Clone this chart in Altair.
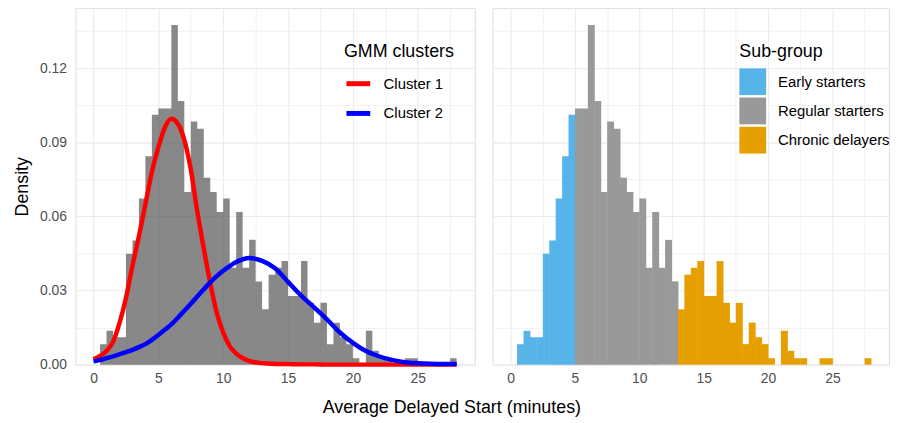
import altair as alt
import pandas as pd

# ---- histogram bins (width 0.5), densities ----
early_start = [0.5, 1.0, 1.5, 2.0, 2.5, 3.0, 3.5, 4.0, 4.5]
early_density = [0.0083, 0.0137, 0.0111, 0.0111, 0.0449, 0.0502, 0.0672, 0.0843, 0.1011]

regular_start = [5.0, 5.5, 6.0, 6.5, 7.0, 7.5, 8.0, 8.5, 9.0, 9.5, 10.0, 10.5, 11.0, 11.5, 12.0, 12.5]
regular_density = [0.1037, 0.1037, 0.1375, 0.1067, 0.0699, 0.0984, 0.0955, 0.0756,
                   0.0699, 0.0618, 0.0672, 0.0392, 0.0618, 0.0392, 0.0505, 0.0337]

chronic_start = [13.0, 13.5, 14.0, 14.5, 15.0, 15.5, 16.0, 16.5, 17.0, 17.5, 18.0, 18.5,
                 19.0, 19.5, 20.0, 21.0, 21.5, 22.0, 22.5, 24.0, 24.5, 27.5]
chronic_density = [0.0224, 0.0364, 0.0392, 0.0419, 0.0278, 0.0278, 0.0419, 0.0250, 0.0170,
                   0.0250, 0.0083, 0.0170, 0.0111, 0.0083, 0.0026, 0.0137, 0.0056, 0.0026,
                   0.0026, 0.0026, 0.0026, 0.0026]

bin_width = 0.5
first_bin, last_bin_end = 0.5, 28.0
groups = ["Early starters", "Regular starters", "Chronic delayers"]
group_colors = ["#56B4E9", "#999999", "#E69F00"]

# ---- GMM component curves ----
curve_x = [0, 0.5, 1, 1.5, 2, 2.5, 3, 3.5, 4, 4.5, 5, 5.5, 6, 6.5, 7, 7.5, 8, 8.5, 9, 9.5,
           10, 10.5, 11, 11.5, 12, 13, 14, 15, 16, 17, 18, 19, 20, 21, 22, 23, 24, 25, 26, 27, 28]
cluster1 = [0.0022, 0.0035, 0.0055, 0.0092, 0.0168, 0.027, 0.040, 0.052, 0.065, 0.078, 0.088,
            0.096, 0.0995, 0.0975, 0.091, 0.079, 0.062, 0.047, 0.033, 0.021, 0.013, 0.0075,
            0.0045, 0.0027, 0.0015, 0.0006, 0.0003, 0.0002, 0.0001, 0.0001, 0.0, 0.0, 0.0,
            0.0, 0.0, 0.0, 0.0, 0.0, 0.0, 0.0, 0.0]
cluster2 = [0.0013, 0.0019, 0.0026, 0.0033, 0.0042, 0.0051, 0.006, 0.0071, 0.0083, 0.0100,
            0.0120, 0.0141, 0.0163, 0.0190, 0.0218, 0.0246, 0.0276, 0.0305, 0.0333, 0.0358,
            0.0380, 0.0399, 0.0415, 0.0426, 0.0432, 0.0420, 0.0390, 0.0335, 0.0280, 0.0232,
            0.0183, 0.0130, 0.0088, 0.0055, 0.0034, 0.0019, 0.0010, 0.0006, 0.0004, 0.0003,
            0.0003]

x_ticks = [0, 5, 10, 15, 20, 25]
y_ticks = [0.00, 0.03, 0.06, 0.09, 0.12]

# ---- tables ----
rows = []
lookup = {}
for g, starts, dens in [(groups[0], early_start, early_density),
                        (groups[1], regular_start, regular_density),
                        (groups[2], chronic_start, chronic_density)]:
    for s, d in zip(starts, dens):
        rows.append({"start": s, "end": s + bin_width, "density": d, "group": g})
        lookup[s] = d
hist = pd.DataFrame(rows)

# continuous step outline for the semi-transparent left histogram (empty bins are 0)
n_bins = int(round((last_bin_end - first_bin) / bin_width))
step_x = [first_bin + i * bin_width for i in range(n_bins)] + [last_bin_end]
step = pd.DataFrame({"x": step_x, "density": [lookup.get(x, 0.0) for x in step_x[:-1]] + [0.0]})

curves = pd.DataFrame(
    [{"x": x, "density": d, "cluster": "Cluster 1", "order": 0} for x, d in zip(curve_x, cluster1)]
    + [{"x": x, "density": d, "cluster": "Cluster 2", "order": 1} for x, d in zip(curve_x, cluster2)]
)

FONT = "Liberation Sans"
GRID = "#EBEBEB"
W_LEFT, W_RIGHT, H = 403, 400, 360

x_grid_vals = [i * 2.5 for i in range(12)]
y_grid_vals = [round(i * 0.015, 3) for i in range(10)]

xscale = alt.Scale(domain=[-1.4, 29.4], nice=False, zero=False)
yscale = alt.Scale(domain=[0, 0.1444], nice=False, zero=False)

xaxis = alt.Axis(
    values=x_grid_vals,
    labelExpr="datum.value % 5 === 0 ? format(datum.value, 'd') : ''",
    title=None, ticks=False, domain=False, labelPadding=7,
    labelFontSize=14, labelColor="#4D4D4D", labelFont=FONT,
    grid=True, gridColor=GRID,
    gridWidth={"condition": {"test": "datum.value % 5 === 0", "value": 1.1}, "value": 0.7},
)

def yaxis(show_labels):
    kw = dict(
        values=y_grid_vals,
        ticks=False, domain=False,
        grid=True, gridColor=GRID,
        gridWidth={"condition": {"test": "round(datum.value * 1000) % 30 === 0", "value": 1.1},
                   "value": 0.7},
    )
    if show_labels:
        kw.update(
            labelExpr="round(datum.value * 1000) % 30 === 0 ? format(datum.value, '.2f') : ''",
            title="Density", titleFontSize=18, titleFont=FONT, titleFontWeight="normal",
            titleColor="#000000", titlePadding=8, labelPadding=9,
            labelFontSize=14, labelColor="#4D4D4D", labelFont=FONT,
        )
    else:
        kw.update(labels=False, title=None)
    return alt.Axis(**kw)

# ---- left panel ----
left_hist = alt.Chart(step).mark_area(color="#555555", opacity=0.7, interpolate="step-after").encode(
    x=alt.X("x:Q", scale=xscale, axis=xaxis),
    y=alt.Y("density:Q", scale=yscale, axis=yaxis(True)),
)

left_lines = alt.Chart(curves).mark_line(strokeWidth=4.5, interpolate="monotone").encode(
    x=alt.X("x:Q", scale=xscale, axis=xaxis),
    y=alt.Y("density:Q", scale=yscale, axis=yaxis(True)),
    color=alt.Color(
        "cluster:N",
        scale=alt.Scale(domain=["Cluster 1", "Cluster 2"], range=["#FF0000", "#0000FF"]),
        legend=alt.Legend(
            title="GMM clusters", orient="none", legendX=271, legendY=36,
            symbolType="stroke", symbolStrokeWidth=5, symbolSize=576,
            rowPadding=5, titlePadding=8, labelOffset=11,
            titleFontSize=18, titleFont=FONT, titleFontWeight="normal", titleColor="#000000",
            labelFontSize=15, labelFont=FONT, labelColor="#000000",
        ),
    ),
    order="order:Q",
)

left = alt.layer(left_hist, left_lines).properties(width=W_LEFT, height=H)

# ---- right panel ----
right = alt.Chart(hist).mark_rect(opacity=1, x2Offset=0.5).encode(
    x=alt.X("start:Q", scale=xscale, axis=xaxis),
    x2="end:Q",
    y=alt.Y("density:Q", scale=yscale, axis=yaxis(False)),
    y2=alt.datum(0),
    color=alt.Color(
        "group:N",
        scale=alt.Scale(domain=groups, range=group_colors),
        legend=alt.Legend(
            title="Sub-group", orient="none", legendX=249, legendY=36,
            symbolType="square", symbolSize=729, symbolStrokeWidth=0, symbolOpacity=1,
            rowPadding=2.5, titlePadding=7, labelOffset=12,
            titleFontSize=18, titleFont=FONT, titleFontWeight="normal", titleColor="#000000",
            labelFontSize=15, labelFont=FONT, labelColor="#000000",
        ),
    ),
).properties(width=W_RIGHT, height=H)

chart = alt.hconcat(left, right, spacing=16).resolve_scale(color="independent").properties(
    title=alt.TitleParams(
        "Average Delayed Start (minutes)", orient="bottom", anchor="middle",
        fontSize=18, font=FONT, fontWeight="normal", color="#000000", offset=13,
    ),
    padding={"left": 5, "top": -3, "right": 0, "bottom": 2},
).configure_view(stroke=None).configure(font=FONT)

chart.save("out.html", embed_options={"renderer": "svg", "actions": False})
